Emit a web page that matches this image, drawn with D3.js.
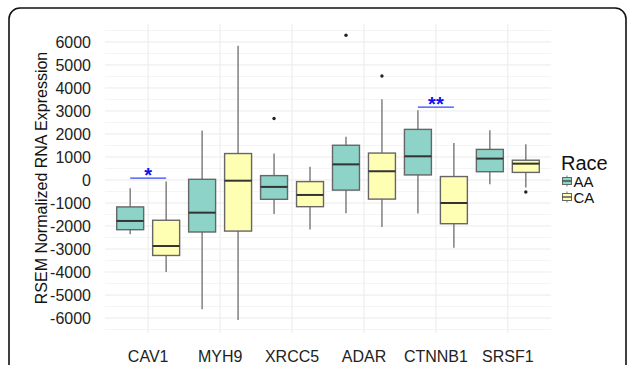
<!DOCTYPE html>
<html>
<head>
<meta charset="utf-8">
<script src="https://cdn.jsdelivr.net/npm/d3@7"></script>
<style>
  body { margin: 0; background: #fff; }
  svg { display: block; font-family: "Liberation Sans", Arial, sans-serif; }
</style>
</head>
<body>
<svg id="chart" width="627" height="365"></svg>
<script>
// genes on the x axis, two groups per gene
const genes = ["CAV1", "MYH9", "XRCC5", "ADAR", "CTNNB1", "SRSF1"];
const races = ["AA", "CA"];

// box stats (lower whisker, Q1, median, Q3, upper whisker)
const aaMin = [-2360, -5620, -1480, -1440, -1460, -190];
const aaQ1  = [-2160, -2260, -840, -440, 220, 360];
const aaMed = [-1780, -1420, -300, 680, 1030, 930];
const aaQ3  = [-1170, 30, 190, 1510, 2200, 1330];
const aaMax = [-360, 2150, 1150, 1880, 3030, 2160];

const caMin = [-4000, -6090, -2150, -2040, -2940, -330];
const caQ1  = [-3280, -2220, -1160, -830, -1900, 330];
const caMed = [-2870, -30, -650, 380, -1000, 710];
const caQ3  = [-1750, 1150, -70, 1170, 150, 860];
const caMax = [-70, 5830, 580, 3510, 1610, 1550];

const aaOut = [[], [], [2670], [6290], [], []];
const caOut = [[], [], [], [4520], [], [-520]];

// significance marks
const sigGenes = ["CAV1", "CTNNB1"];
const sigLabels = ["*", "**"];
const sigY = [80, 3170];

const yTicks = d3.range(-6000, 6001, 1000);
const yMinor = d3.range(-6500, 6501, 1000);

const colors = { AA: "#8DD3C7", CA: "#FFFFB3" };

const svg = d3.select("#chart");

// outer frame
svg.append("rect")
    .attr("x", 9).attr("y", 8)
    .attr("width", 617).attr("height", 420)
    .attr("rx", 11)
    .attr("fill", "none")
    .attr("stroke", "#111")
    .attr("stroke-width", 1.6);

const panel = {left: 105, right: 551, top: 24, bottom: 333};

let x = d3.scaleBand()
    .domain(genes)
    .range([panel.left, panel.right])
    .paddingInner(0)
    .paddingOuter(0.1);

let xSub = d3.scaleBand()
    .domain(races)
    .range([0, x.bandwidth()]);

let y = d3.scaleLinear()
    .domain([-6650, 6780])
    .range([panel.bottom, panel.top]);

const boxW = x.bandwidth() * 0.375;

// grid
let grid = svg.append("g");
grid.selectAll("line.minor")
    .data(yMinor)
    .enter()
    .append("line")
    .attr("x1", panel.left).attr("x2", panel.right)
    .attr("y1", d => y(d)).attr("y2", d => y(d))
    .attr("stroke", "#f4f4f4").attr("stroke-width", 1);
grid.selectAll("line.major")
    .data(yTicks)
    .enter()
    .append("line")
    .attr("x1", panel.left).attr("x2", panel.right)
    .attr("y1", d => y(d)).attr("y2", d => y(d))
    .attr("stroke", "#ebebeb").attr("stroke-width", 1);
grid.selectAll("line.vert")
    .data(genes)
    .enter()
    .append("line")
    .attr("x1", d => x(d) + x.bandwidth() / 2)
    .attr("x2", d => x(d) + x.bandwidth() / 2)
    .attr("y1", panel.top).attr("y2", panel.bottom)
    .attr("stroke", "#ebebeb").attr("stroke-width", 1);

// y axis (plain hyphen for negatives, like the original)
let yAxis = svg.append("g")
    .attr("transform", "translate(" + panel.left + ",0)")
    .call(d3.axisLeft(y).tickValues(yTicks).tickSize(0).tickPadding(14).tickFormat(d => String(d)));
yAxis.select(".domain").remove();
yAxis.selectAll("text")
    .attr("font-size", 16)
    .attr("font-family", "Liberation Sans, Arial, sans-serif")
    .attr("fill", "#222");

// x axis
let xAxis = svg.append("g")
    .attr("transform", "translate(0," + panel.bottom + ")")
    .call(d3.axisBottom(x).tickSize(0).tickPadding(18));
xAxis.select(".domain").remove();
xAxis.selectAll("text")
    .attr("font-size", 16)
    .attr("font-family", "Liberation Sans, Arial, sans-serif")
    .attr("fill", "#222");

svg.append("text")
    .attr("transform", "translate(47," + 178 + ") rotate(-90)")
    .attr("text-anchor", "middle")
    .attr("font-size", 16)
    .attr("fill", "#111")
    .text("RSEM Normalized RNA Expression");

// boxes
const boxes = [];
genes.forEach((g, i) => {
    boxes.push({gene: g, race: "AA", lo: aaMin[i], q1: aaQ1[i], med: aaMed[i], q3: aaQ3[i], hi: aaMax[i], out: aaOut[i]});
    boxes.push({gene: g, race: "CA", lo: caMin[i], q1: caQ1[i], med: caMed[i], q3: caQ3[i], hi: caMax[i], out: caOut[i]});
});
const cx = d => x(d.gene) + xSub(d.race) + xSub.bandwidth() / 2;

let bg = svg.append("g").selectAll("g")
    .data(boxes)
    .enter()
    .append("g");

bg.append("line")
    .attr("x1", cx).attr("x2", cx)
    .attr("y1", d => y(d.hi)).attr("y2", d => y(d.lo))
    .attr("stroke", "#777").attr("stroke-width", 1.4);

bg.append("rect")
    .attr("x", d => cx(d) - boxW / 2)
    .attr("width", boxW)
    .attr("y", d => y(d.q3))
    .attr("height", d => y(d.q1) - y(d.q3))
    .attr("fill", d => colors[d.race])
    .attr("stroke", "#666")
    .attr("stroke-width", 1.4);

bg.append("line")
    .attr("x1", d => cx(d) - boxW / 2).attr("x2", d => cx(d) + boxW / 2)
    .attr("y1", d => y(d.med)).attr("y2", d => y(d.med))
    .attr("stroke", "#333").attr("stroke-width", 2);

bg.selectAll("circle")
    .data(d => d.out.map(v => ({v: v, x: cx(d)})))
    .enter()
    .append("circle")
    .attr("cx", d => d.x)
    .attr("cy", d => y(d.v))
    .attr("r", 1.7)
    .attr("fill", "#222");

// significance bars
sigGenes.forEach((g, i) => {
    const x1 = x(g) + xSub("AA") + xSub.bandwidth() / 2;
    const x2 = x(g) + xSub("CA") + xSub.bandwidth() / 2;
    svg.append("line")
        .attr("x1", x1).attr("x2", x2)
        .attr("y1", y(sigY[i])).attr("y2", y(sigY[i]))
        .attr("stroke", "#3344ff").attr("stroke-width", 1.3);
    svg.append("text")
        .attr("x", (x1 + x2) / 2)
        .attr("y", y(sigY[i]) + 4)
        .attr("text-anchor", "middle")
        .attr("font-size", 20)
        .attr("font-weight", "bold")
        .attr("fill", "#1010ee")
        .text(sigLabels[i]);
});

// legend
let legend = svg.append("g").attr("transform", "translate(561,0)");
legend.append("text")
    .attr("x", 0).attr("y", 170)
    .attr("font-size", 20)
    .attr("fill", "#111")
    .text("Race");
races.forEach((r, i) => {
    const ky = 181 + i * 16;
    legend.append("line")
        .attr("x1", 6).attr("x2", 6)
        .attr("y1", ky - 5.5).attr("y2", ky + 5.5)
        .attr("stroke", "#777").attr("stroke-width", 1);
    legend.append("rect")
        .attr("x", 1.5).attr("y", ky - 3.5)
        .attr("width", 9).attr("height", 7)
        .attr("fill", colors[r])
        .attr("stroke", "#666").attr("stroke-width", 1);
    legend.append("line")
        .attr("x1", 1.5).attr("x2", 10.5)
        .attr("y1", ky).attr("y2", ky)
        .attr("stroke", "#333").attr("stroke-width", 1.2);
    legend.append("text")
        .attr("x", 12.5).attr("y", ky + 5.5)
        .attr("font-size", 15)
        .attr("fill", "#111")
        .text(r);
});
</script>
</body>
</html>
